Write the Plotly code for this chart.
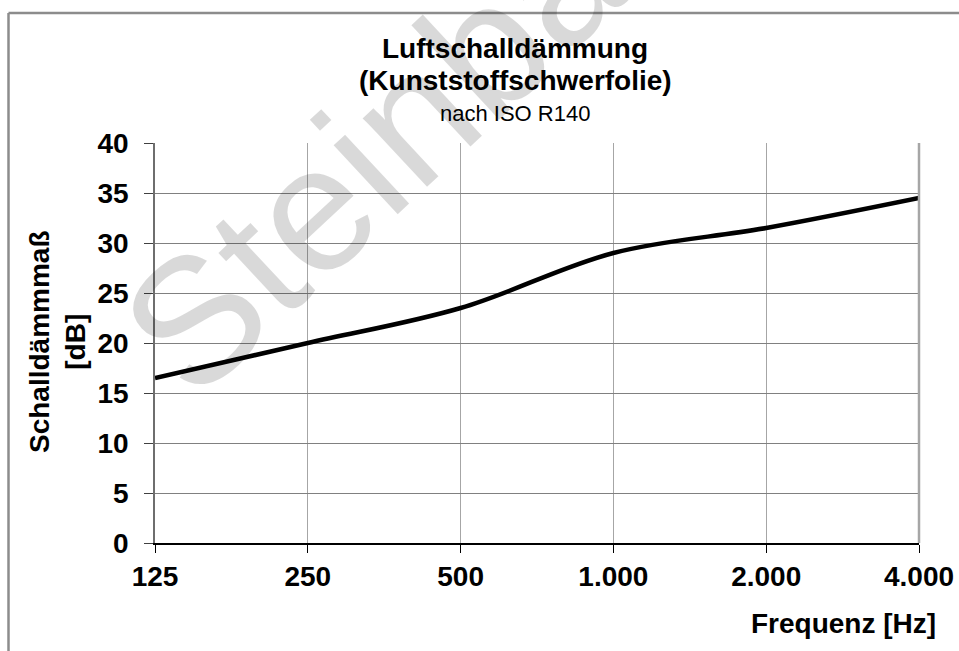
import plotly.graph_objects as go
import math

# Data
frequencies = [125, 250, 500, 1000, 2000, 4000]
tick_labels = ["125", "250", "500", "1.000", "2.000", "4.000"]
sound_reduction_db = [16.5, 20.0, 23.5, 29.0, 31.5, 34.5]

W, H = 959, 651
# plot area in window pixels
L, R, T, B = 155, 919, 143, 543


def px(x):
    return (x - L) / (R - L)


def py(y):
    return (B - y) / (B - T)


FONT = "Arial, Liberation Sans, sans-serif"

fig = go.Figure()
fig.add_trace(go.Scatter(
    x=frequencies, y=sound_reduction_db, mode="lines",
    line=dict(color="black", width=4.5, shape="spline", smoothing=1.0),
    hoverinfo="x+y", showlegend=False,
))

fig.update_layout(
    width=W, height=H,
    margin=dict(l=L, r=W - R, t=T, b=H - B, autoexpand=False),
    paper_bgcolor="white", plot_bgcolor="white",
    font=dict(family=FONT, color="black"),
    xaxis=dict(
        type="log", range=[math.log10(125), math.log10(4000)],
        tickvals=frequencies, ticktext=tick_labels,
        tickfont=dict(size=28, family=FONT, color="black", weight="bold"),
        showgrid=True, gridcolor="#a6a6a6", gridwidth=1.3,
        showline=True, linecolor="black", linewidth=1.5,
        ticks="outside", ticklen=8, tickcolor="black", tickwidth=1.2,
        ticklabelstandoff=0, zeroline=False, automargin=False,
    ),
    yaxis=dict(
        range=[0, 40], dtick=5, tick0=0,
        tickfont=dict(size=28, family=FONT, color="black", weight="bold"),
        showgrid=True, gridcolor="#808080", gridwidth=1.3,
        showline=True, linecolor="#6e6e6e", linewidth=1.5,
        ticks="outside", ticklen=9, tickcolor="#404040", tickwidth=1.2,
        ticklabelstandoff=10, zeroline=False, automargin=False,
    ),
)

shapes = [
    # outer chart border (top and left edges visible in the window)
    dict(type="line", xref="paper", yref="paper",
         x0=px(8.5), x1=px(959), y0=py(13), y1=py(13),
         line=dict(color="#8c8c8c", width=2.5)),
    dict(type="line", xref="paper", yref="paper",
         x0=px(8.5), x1=px(8.5), y0=py(13), y1=py(651),
         line=dict(color="#8c8c8c", width=2.5)),
    # right border of plot area
    dict(type="line", xref="paper", yref="paper", x0=1, x1=1, y0=0, y1=1,
         line=dict(color="#a6a6a6", width=2.5)),
]
fig.update_layout(shapes=shapes)

annotations = [
    dict(text="Steinbach", x=px(441), y=py(89), xref="paper", yref="paper",
         showarrow=False, textangle=-43, xanchor="center", yanchor="middle",
         font=dict(size=178, family=FONT, color="rgba(0,0,0,0.15)")),
    dict(text="<b>Luftschalldämmung</b>", x=px(515), y=py(49), xref="paper", yref="paper",
         showarrow=False, xanchor="center", yanchor="middle",
         font=dict(size=28, family=FONT, color="black")),
    dict(text="<b>(Kunststoffschwerfolie)</b>", x=px(515), y=py(80), xref="paper", yref="paper",
         showarrow=False, xanchor="center", yanchor="middle",
         font=dict(size=28, family=FONT, color="black")),
    dict(text="nach ISO R140", x=px(515), y=py(113), xref="paper", yref="paper",
         showarrow=False, xanchor="center", yanchor="middle",
         font=dict(size=22, family=FONT, color="black")),
    dict(text="<b>Frequenz [Hz]</b>", x=px(938), y=py(623), xref="paper", yref="paper",
         showarrow=False, xanchor="right", yanchor="middle",
         font=dict(size=28, family=FONT, color="black")),
    dict(text="<b>Schalldämmmaß<br>[dB]</b>", x=px(57), y=py(342), xref="paper", yref="paper",
         showarrow=False, textangle=-90, xanchor="center", yanchor="middle",
         font=dict(size=28, family=FONT, color="black")),
]
fig.update_layout(annotations=annotations)

fig.write_html(
    "out.html",
    config={"displayModeBar": False, "responsive": False},
    post_script="document.body.style.margin='0px';document.body.style.overflow='hidden';",
)
